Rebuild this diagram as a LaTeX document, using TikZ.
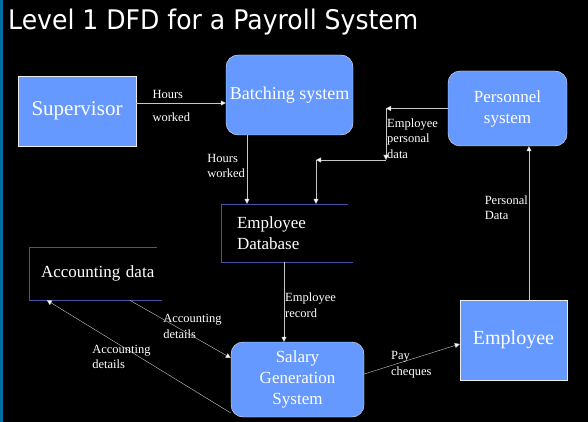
\documentclass[tikz,border=0pt]{standalone}
\usepackage{fontspec}
\setmainfont{Liberation Serif}
\newfontfamily\titlefont[FakeStretch=0.93]{DejaVu Sans}
\usepackage{tikz}
\usetikzlibrary{arrows.meta, positioning}
\definecolor{boxblue}{RGB}{102, 153, 255}
\definecolor{storeline}{RGB}{70, 82, 170}
\definecolor{flowline}{RGB}{200, 200, 200}
\definecolor{edgeblue}{RGB}{0, 110, 160}

\begin{document}
\begin{tikzpicture}[x=1pt, y=-1pt,
  entity/.style  = {rectangle, draw=white!85!gray, thin, fill=boxblue,
                    text=white, inner sep=0pt, align=center},
  proc/.style    = {entity, rounded corners=12pt},
  store/.style   = {rectangle, inner ysep=0pt, align=left, text=white,
                    font=\fontsize{17}{21}\selectfont},
  storeedge/.style = {draw=storeline, thin},
  flow/.style    = {draw=flowline, thin, -{Triangle[length=5pt, width=5pt, fill=white]}},
  lbl/.style     = {text=white, inner sep=0pt, align=left,
                    font=\fontsize{12.5}{15.5}\selectfont},
]
  % Background
  \fill[black] (0,0) rectangle (588,422);
  \fill[edgeblue] (0,0) rectangle (3,422);
  \useasboundingbox (0,0) rectangle (588,422);

  % Title
  \node[anchor=west, text=white, inner sep=0pt,
        font=\titlefont\fontsize{27}{30}\selectfont] (title) at (8,22)
        {Level 1 DFD for a Payroll System};

  % Entities and processes
  \node[entity, minimum width=118pt, minimum height=70pt,
        font=\fontsize{21}{25}\selectfont] (supervisor) at (77,111) {Supervisor};
  \node[proc, minimum width=127pt, minimum height=80pt,
        font=\fontsize{18}{22}\selectfont] (batching) at (289.5,95) {Batching system};
  \node[proc, minimum width=119pt, minimum height=75pt,
        font=\fontsize{17}{21}\selectfont] (personnel) at (507.5,108.5) {Personnel\\system};
  \node[entity, minimum width=107pt, minimum height=80pt,
        font=\fontsize{20}{24}\selectfont] (employee) at (513.5,340) {Employee};
  \node[proc, minimum width=133pt, minimum height=75pt,
        font=\fontsize{17}{21}\selectfont] (salary) at (297.5,379.5) {Salary\\Generation\\System};

  % Data stores
  \node[store, inner xsep=16pt, text width=97pt, minimum height=58pt]
        (database) at (285.5,233) {Employee\\Database};
  \node[store, inner xsep=12pt, text width=120pt, minimum height=53pt]
        (accounts) at (101,273.5) {Accounting data};
  \draw[storeedge] ([xshift=-2pt]database.north east) -- (database.north west)
        -- (database.south west) -- ([xshift=3pt]database.south east);
  \draw[storeedge] ([xshift=-16pt]accounts.north east) -- (accounts.north west)
        -- (accounts.south west) -- ([xshift=-11pt]accounts.south east);

  % Bends
  \coordinate (bend1) at (386,108.5);
  \coordinate (bend2) at (386,160);
  \coordinate (bend3) at (316,160);

  % Flows
  \draw[flow] ([yshift=8pt]supervisor.east) -- ([yshift=8pt]supervisor.east -| batching.west)
        node[lbl, pos=0.18, above=4pt, anchor=south west] {Hours}
        node[lbl, pos=0.18, below=10pt, anchor=north west] {worked};
  \draw[flow] ([xshift=-42.5pt]batching.south) -- ([xshift=-42.5pt]batching.south |- database.north)
        node[lbl, pos=0.45, left=2pt] {Hours\\worked};
  \draw[flow] (personnel.west) -- (bend1);
  \draw[flow] (bend1) -- (bend2)
        node[lbl, midway, anchor=west, xshift=1pt, yshift=-4pt] {Employee\\personal\\data};
  \draw[flow] (bend2) -- (bend3);
  \draw[flow] (bend3) -- (bend3 |- database.north);
  \draw[flow] ([xshift=-1.5pt]database.south) -- ([xshift=-1.5pt]database.south |- salary.north)
        node[lbl, midway, anchor=west, xshift=1pt, yshift=-3pt] {Employee\\record};
  \draw[flow] ([xshift=15.5pt]employee.north) -- ([xshift=15.5pt]employee.north |- personnel.south)
        node[lbl, pos=0.6, anchor=east, xshift=-1pt, yshift=0pt] {Personal\\Data};
  \draw[flow] ([xshift=101pt]accounts.south west) -- ([yshift=21.5pt]salary.west)
        node[lbl, pos=0.33, anchor=north west, xshift=0pt, yshift=5pt] {Accounting\\details};
  \draw[flow] ([yshift=-33.5pt]salary.west) -- ([xshift=18pt]accounts.south west)
        node[lbl, pos=0.5, anchor=north east, xshift=12pt, yshift=12pt] {Accounting\\details};
  \draw[flow] ([yshift=5.5pt]salary.east) -- ([yshift=-4pt]employee.west)
        node[lbl, pos=0.28, anchor=north west, yshift=14pt] {Pay\\cheques};
\end{tikzpicture}
\end{document}
